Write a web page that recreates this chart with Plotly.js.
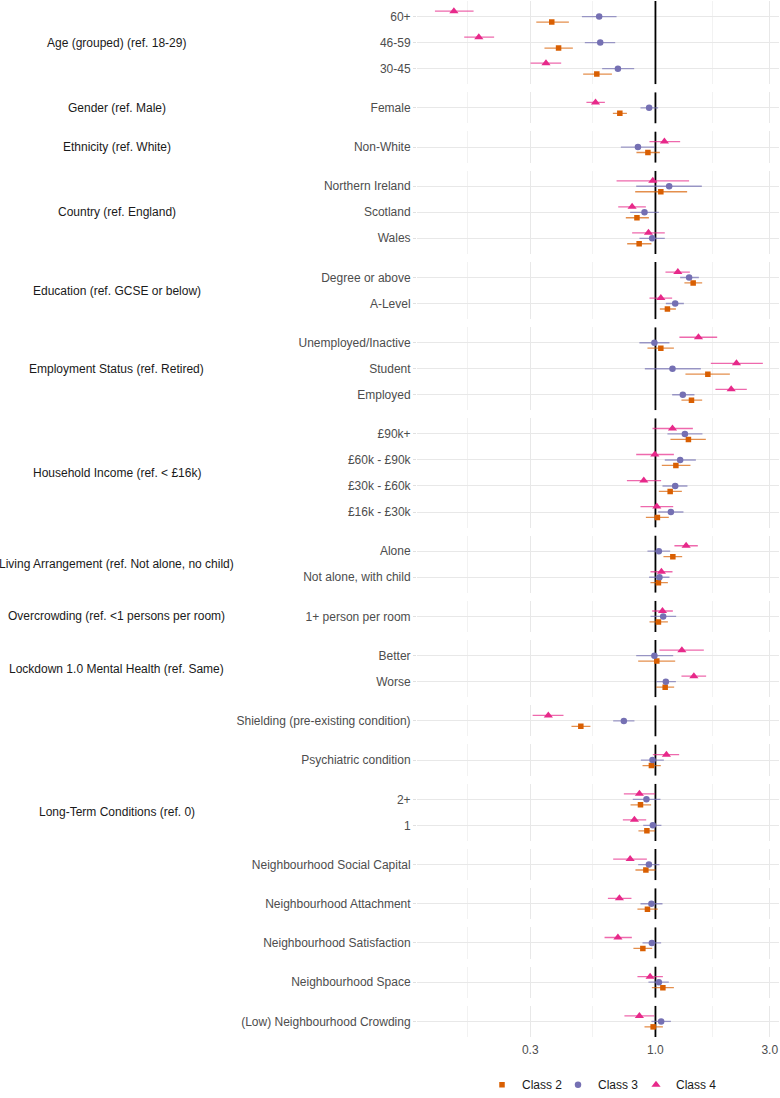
<!DOCTYPE html>
<html>
<head>
<meta charset="utf-8">
<script src="https://cdn.plot.ly/plotly-3.0.1.min.js"></script>
<style>html,body{margin:0;padding:0;background:#fff;}#chart{width:780px;height:1098px;}</style>
</head>
<body>
<div id="chart"></div>
<script>
// ---- data ----
const panelLabels = ['Age (grouped) (ref. 18-29)', 'Gender (ref. Male)', 'Ethnicity (ref. White)', 'Country (ref. England)',
  'Education (ref. GCSE or below)', 'Employment Status (ref. Retired)', 'Household Income (ref. < £16k)',
  'Living Arrangement (ref. Not alone, no child)', 'Overcrowding (ref. <1 persons per room)',
  'Lockdown 1.0 Mental Health (ref. Same)', '', '', 'Long-Term Conditions (ref. 0)', '', '', '', '', ''];

const rowLabels = ['60+', '46-59', '30-45', 'Female', 'Non-White', 'Northern Ireland', 'Scotland', 'Wales',
  'Degree or above', 'A-Level', 'Unemployed/Inactive', 'Student', 'Employed', '£90k+', '£60k - £90k',
  '£30k - £60k', '£16k - £30k', 'Alone', 'Not alone, with child', '1+ person per room', 'Better', 'Worse',
  'Shielding (pre-existing condition)', 'Psychiatric condition', '2+', '1', 'Neighbourhood Social Capital',
  'Neighbourhood Attachment', 'Neighbourhood Satisfaction', 'Neighbourhood Space', '(Low) Neighbourhood Crowding'];

const rowPanel = [0,0,0,1,2,3,3,3,4,4,5,5,5,6,6,6,6,7,7,8,9,9,10,11,12,12,13,14,15,16,17];

const classNames = ['Class 2', 'Class 3', 'Class 4'];

const class2Est = [0.369,0.394,0.569,0.710,0.930,1.053,0.837,0.855,1.437,1.122,1.053,1.655,1.414,1.373,1.217,1.152,1.019,1.182,1.029,1.029,1.013,1.098,0.488,0.962,0.866,0.921,0.912,0.926,0.886,1.074,0.978];
const class2Lo  = [0.318,0.344,0.499,0.664,0.833,0.823,0.752,0.762,1.321,1.043,0.926,1.334,1.284,1.155,1.063,1.033,0.912,1.080,0.953,0.944,0.847,1.007,0.446,0.883,0.787,0.849,0.825,0.841,0.809,0.966,0.900];
const class2Hi  = [0.435,0.452,0.658,0.760,1.043,1.356,0.939,0.962,1.567,1.217,1.194,2.045,1.567,1.623,1.400,1.289,1.137,1.293,1.127,1.127,1.209,1.197,0.535,1.053,0.959,0.997,1.000,1.023,0.969,1.194,1.074];

const class3Est = [0.582,0.588,0.697,0.941,0.845,1.141,0.900,0.969,1.382,1.209,0.990,1.178,1.301,1.327,1.268,1.209,1.160,1.033,1.039,1.077,0.990,1.105,0.738,0.972,0.917,0.975,0.939,0.962,0.966,1.033,1.056];
const class3Lo  = [0.493,0.507,0.599,0.866,0.717,0.831,0.784,0.857,1.268,1.105,0.857,0.903,1.174,1.122,1.094,1.070,1.026,0.926,0.941,0.953,0.831,1.007,0.666,0.869,0.804,0.889,0.847,0.866,0.883,0.935,0.962];
const class3Hi  = [0.688,0.679,0.815,1.026,0.990,1.562,1.033,1.094,1.518,1.314,1.144,1.547,1.455,1.571,1.475,1.360,1.309,1.152,1.144,1.220,1.186,1.217,0.817,1.084,1.049,1.059,1.039,1.070,1.056,1.137,1.160];

const class4Est = [0.144,0.183,0.349,0.562,1.090,0.975,0.799,0.935,1.240,1.053,1.512,2.179,2.071,1.178,0.994,0.894,1.013,1.343,1.059,1.070,1.289,1.447,0.357,1.111,0.857,0.817,0.784,0.707,0.697,0.950,0.857];
const class4Lo  = [0.120,0.159,0.301,0.515,0.944,0.688,0.699,0.799,1.101,0.944,1.259,1.703,1.780,0.972,0.831,0.760,0.866,1.200,0.953,0.969,1.039,1.284,0.307,0.975,0.738,0.731,0.666,0.633,0.613,0.841,0.742];
const class4Hi  = [0.174,0.212,0.404,0.615,1.268,1.382,0.912,1.094,1.392,1.174,1.810,2.808,2.407,1.433,1.194,1.056,1.186,1.503,1.178,1.182,1.592,1.628,0.413,1.256,0.997,0.915,0.921,0.794,0.797,1.074,0.988];

const xTickVals = [0.3, 1, 3];
const xTickText = ['0.3', '1.0', '3.0'];
const xMinorVals = [0.1643, 0.5477, 1.732];
const refValue = 1;

// ---- styling ----
const FONT = 'Liberation Sans, Arial, Helvetica, sans-serif';
const classColors = ['#D95F02', '#7570B3', '#E7298A'];
const classBarColors = ['rgba(217,95,2,0.7)', 'rgba(117,112,179,0.7)', 'rgba(231,41,138,0.7)'];
const classSymbols = ['square', 'circle', 'triangle-up'];
const classSizes = [5.5, 6.5, 8];
const dodge = [-0.21, 0, 0.21];
const legendSymbolPx = [502, 578, 656];

const W = 780, Hfig = 1098;
const margin = {l: 417, r: 1, t: 1, b: 61, autoexpand: false};
const plotH = Hfig - margin.t - margin.b;
const plotW = W - margin.l - margin.r;
const gapPx = 8;

const nPanels = panelLabels.length;
const panelRows = [];
for (let k = 0; k < nPanels; k++) panelRows.push([]);
rowPanel.forEach((p, i) => panelRows[p].push(i));

const totalUnits = panelRows.reduce((s, r) => s + r.length + 0.2, 0);
const unit = (plotH - gapPx * (nPanels - 1)) / totalUnits;

const ests = [class2Est, class3Est, class4Est];
const los = [class2Lo, class3Lo, class4Lo];
const his = [class2Hi, class3Hi, class4Hi];

const layout = {
  width: W, height: Hfig, margin: margin,
  paper_bgcolor: '#fff', plot_bgcolor: '#fff',
  font: {family: FONT, size: 12, color: '#4D4D4D'},
  showlegend: true,
  shapes: [], annotations: []
};
const legendIds = ['legend', 'legend2', 'legend3'];
legendIds.forEach((id, c) => {
  layout[id] = {orientation: 'h', x: (legendSymbolPx[c] - 20 - margin.l) / plotW, xanchor: 'left',
    y: -0.046, yanchor: 'middle', bgcolor: 'rgba(0,0,0,0)',
    font: {family: FONT, size: 12, color: '#1A1A1A'}};
});

const traces = [];
let topPx = 0;
for (let k = 0; k < nPanels; k++) {
  const rows = panelRows[k];
  const n = rows.length;
  const hPx = (n + 0.2) * unit;
  const dom = [1 - (topPx + hPx) / plotH, 1 - topPx / plotH];
  topPx += hPx + gapPx;
  const yid = k === 0 ? 'y' : 'y' + (k + 1);
  const ykey = k === 0 ? 'yaxis' : 'yaxis' + (k + 1);
  const tickvals = rows.map((r, i) => n - i);
  layout[ykey] = {
    domain: dom, range: [0.4, n + 0.6], anchor: 'x',
    tickmode: 'array', tickvals: tickvals, ticktext: rows.map(r => rowLabels[r]),
    showgrid: true, gridcolor: '#E8E8E8', gridwidth: 1,
    zeroline: false, showline: false,
    ticks: 'outside', ticklen: 3, tickcolor: '#E0E0E0', tickwidth: 1,
    tickfont: {family: FONT, size: 12, color: '#4D4D4D'},
    fixedrange: true
  };
  // reference line at OR = 1 for this panel
  traces.push({
    type: 'scatter', mode: 'lines', x: [refValue, refValue], y: [0.4, n + 0.6],
    xaxis: 'x', yaxis: yid, showlegend: false, hoverinfo: 'skip',
    line: {color: '#000', width: 1.8}
  });
  if (panelLabels[k]) {
    layout.annotations.push({text: panelLabels[k], xref: 'paper', yref: yid + ' domain',
      x: (116.5 - margin.l) / plotW, y: 0.5, xanchor: 'center', yanchor: 'middle', showarrow: false,
      font: {family: FONT, size: 12, color: '#1A1A1A'}});
  }
  for (let c = 0; c < 3; c++) {
    const xs = rows.map(r => ests[c][r]);
    traces.push({
      type: 'scatter', mode: 'markers', name: classNames[c], legendgroup: classNames[c],
      legend: legendIds[c],
      showlegend: k === 0, xaxis: 'x', yaxis: yid,
      x: xs, y: tickvals.map(v => v + dodge[c]),
      marker: {symbol: classSymbols[c], size: classSizes[c], color: classColors[c], line: {width: 0}},
      error_x: {type: 'data', symmetric: false,
        array: rows.map(r => his[c][r] - ests[c][r]),
        arrayminus: rows.map(r => ests[c][r] - los[c][r]),
        color: classBarColors[c], thickness: 1.3, width: 0},
      hoverinfo: 'x+name'
    });
  }
}

layout.xaxis = {
  type: 'log', domain: [0, 1], anchor: 'y' + nPanels,
  range: [Math.log10(0.101), Math.log10(3.28)],
  tickmode: 'array', tickvals: xTickVals, ticktext: xTickText,
  showgrid: true, gridcolor: '#E8E8E8', gridwidth: 1,
  minor: {tickmode: 'array', tickvals: xMinorVals, showgrid: true, gridcolor: '#EFEFEF', gridwidth: 0.8, ticks: ''},
  zeroline: false, showline: false, ticks: '', ticklabelstandoff: 4,
  tickfont: {family: FONT, size: 12, color: '#4D4D4D'},
  fixedrange: true
};

Plotly.newPlot('chart', traces, layout, {displayModeBar: false, staticPlot: true});
</script>
</body>
</html>
